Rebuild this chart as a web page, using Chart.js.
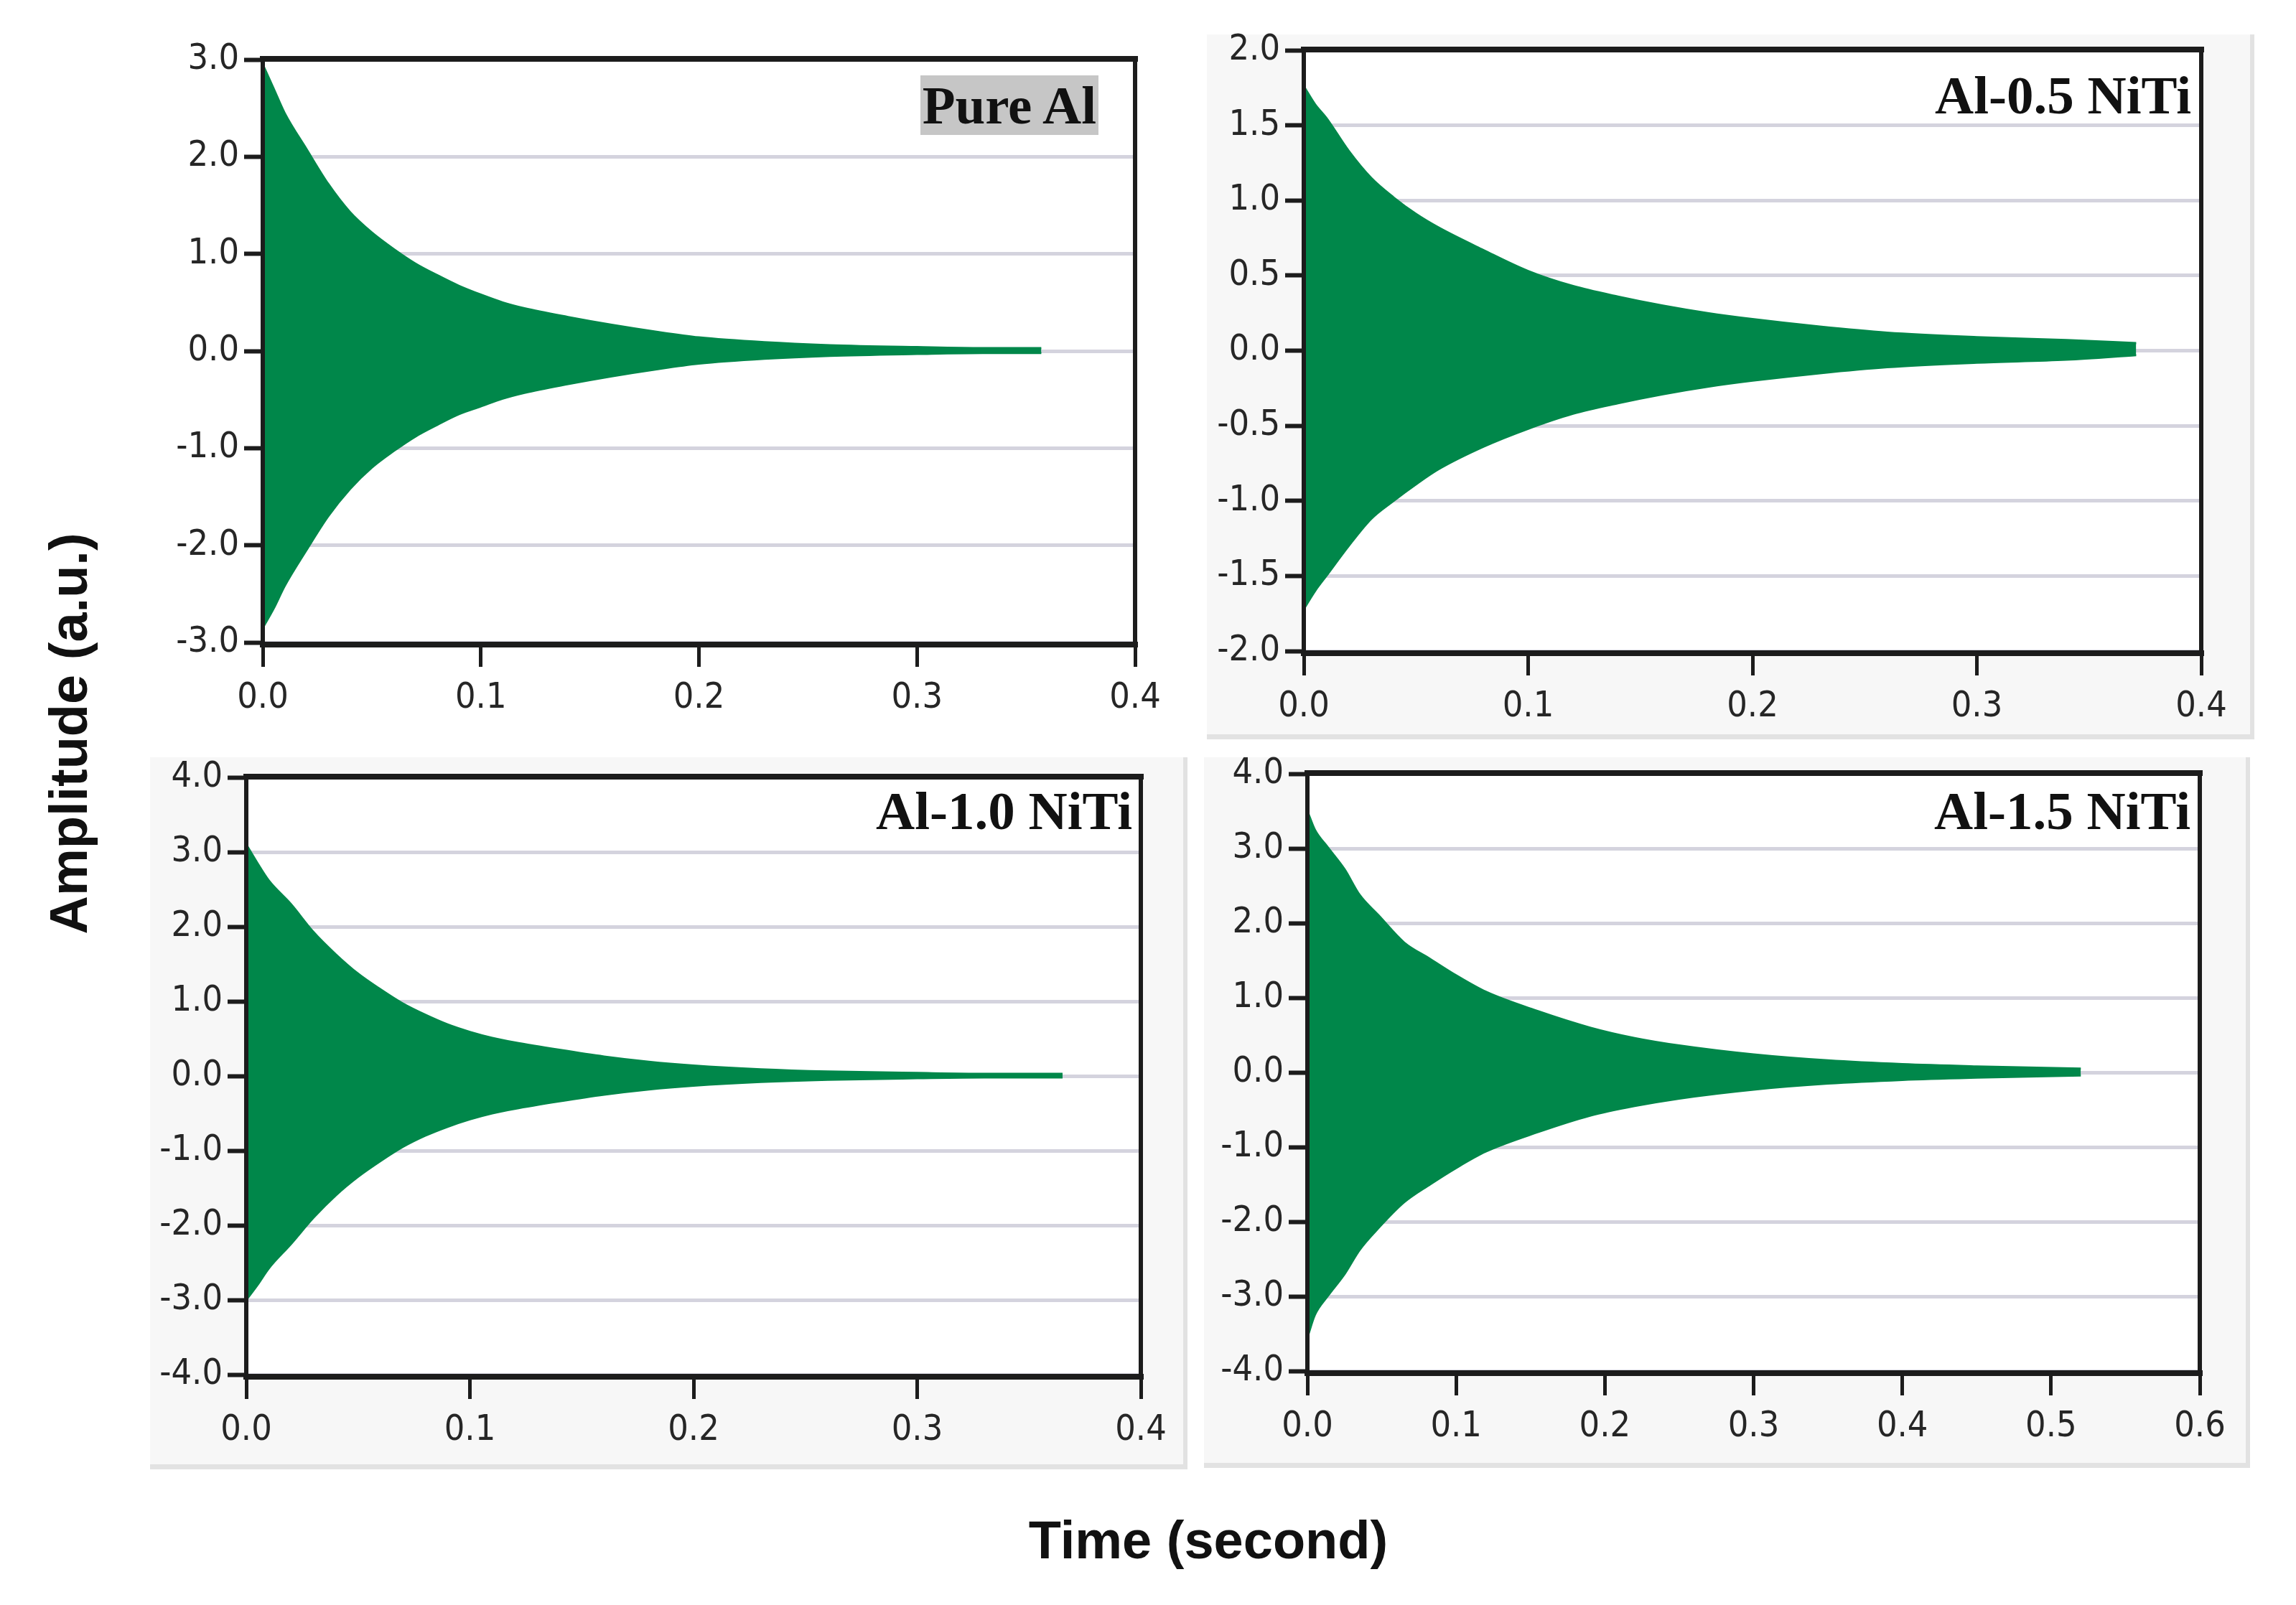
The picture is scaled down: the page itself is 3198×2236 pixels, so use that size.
<!DOCTYPE html>
<html>
<head>
<meta charset="utf-8">
<script src="https://cdn.jsdelivr.net/npm/chart.js@4.4.1/dist/chart.umd.min.js"></script>
<style>
  html, body { margin: 0; padding: 0; background: #fff; }
  body { width: 3198px; height: 2236px; position: relative; overflow: hidden; }
  .box { position: absolute; background: #f7f7f7; border-right: 6px solid #e2e2e2; border-bottom: 7px solid #e2e2e2; box-sizing: border-box; }
  canvas { position: absolute; }
  .tag { position: absolute; font-family: "Liberation Serif", "Times New Roman", serif; font-weight: bold;
         font-size: 75px; line-height: 75px; color: #111; white-space: nowrap; }
  .title { position: absolute; font-family: "Liberation Sans", Arial, sans-serif; font-weight: bold;
           font-size: 74px; line-height: 74px; color: #111; white-space: nowrap; transform: translate(-50%, -50%); }
</style>
</head>
<body>
<div class="box" style="left:1681px;top:48px;width:1459px;height:982px"></div>
<div class="box" style="left:209px;top:1055px;width:1445px;height:992px"></div>
<div class="box" style="left:1677px;top:1055px;width:1457px;height:990px"></div>

<canvas id="pure-al"></canvas>
<canvas id="al-05"></canvas>
<canvas id="al-10"></canvas>
<canvas id="al-15"></canvas>

<div class="tag" style="right:1668px;top:105px;background:#c6c6c6;padding:4px 3px">Pure Al</div>
<div class="tag" style="right:146px;top:95px">Al-0.5 NiTi</div>
<div class="tag" style="right:1621px;top:1092px">Al-1.0 NiTi</div>
<div class="tag" style="right:147px;top:1092px">Al-1.5 NiTi</div>

<div class="title" style="left:96px;top:1022px;transform:translate(-50%,-50%) rotate(-90deg)">Amplitude (a.u.)</div>
<div class="title" style="left:1683px;top:2146px">Time (second)</div>

<script>
// envelope of the decaying signal (time in s, amplitude in a.u.)

// Pure Al
const pureAlTime  = [0, 0.005, 0.01, 0.02, 0.03, 0.04, 0.05, 0.06, 0.07, 0.08, 0.09, 0.10, 0.11, 0.12, 0.14, 0.16, 0.18, 0.20, 0.23, 0.26, 0.30, 0.33, 0.357];
const pureAlUpper = [2.95, 2.70, 2.45, 2.08, 1.72, 1.43, 1.22, 1.05, 0.90, 0.78, 0.67, 0.58, 0.50, 0.44, 0.35, 0.27, 0.20, 0.14, 0.09, 0.06, 0.04, 0.03, 0.03];
const pureAlLower = [-2.85, -2.65, -2.42, -2.05, -1.70, -1.42, -1.20, -1.03, -0.88, -0.76, -0.65, -0.57, -0.49, -0.43, -0.34, -0.26, -0.19, -0.13, -0.08, -0.05, -0.03, -0.02, -0.02];

// Al-0.5 NiTi
const al05Time  = [0, 0.005, 0.01, 0.02, 0.03, 0.04, 0.05, 0.06, 0.08, 0.10, 0.12, 0.14, 0.16, 0.18, 0.20, 0.23, 0.26, 0.30, 0.34, 0.371];
const al05Upper = [1.76, 1.64, 1.55, 1.33, 1.15, 1.02, 0.91, 0.82, 0.67, 0.53, 0.43, 0.36, 0.30, 0.25, 0.21, 0.16, 0.12, 0.09, 0.07, 0.05];
const al05Lower = [-1.72, -1.60, -1.50, -1.30, -1.12, -1.00, -0.89, -0.79, -0.64, -0.52, -0.42, -0.35, -0.29, -0.24, -0.20, -0.15, -0.11, -0.08, -0.06, -0.03];

// Al-1.0 NiTi
const al10Time  = [0, 0.005, 0.01, 0.02, 0.03, 0.04, 0.05, 0.06, 0.07, 0.08, 0.09, 0.10, 0.11, 0.12, 0.14, 0.16, 0.18, 0.20, 0.23, 0.26, 0.30, 0.33, 0.365];
const al10Upper = [3.10, 2.85, 2.62, 2.30, 1.93, 1.63, 1.37, 1.16, 0.97, 0.82, 0.69, 0.59, 0.51, 0.45, 0.35, 0.26, 0.19, 0.14, 0.09, 0.06, 0.04, 0.03, 0.03];
const al10Lower = [-3.00, -2.80, -2.58, -2.25, -1.90, -1.60, -1.35, -1.14, -0.95, -0.80, -0.68, -0.58, -0.50, -0.44, -0.34, -0.25, -0.18, -0.13, -0.08, -0.05, -0.03, -0.02, -0.02];

// Al-1.5 NiTi
const al15Time  = [0, 0.005, 0.0135, 0.025, 0.035, 0.048, 0.065, 0.0825, 0.10, 0.12, 0.155, 0.19, 0.22, 0.25, 0.30, 0.35, 0.40, 0.45, 0.52];
const al15Upper = [3.50, 3.25, 3.02, 2.72, 2.38, 2.10, 1.74, 1.52, 1.30, 1.08, 0.82, 0.60, 0.46, 0.36, 0.24, 0.16, 0.11, 0.08, 0.05];
const al15Lower = [-3.55, -3.25, -3.00, -2.70, -2.38, -2.08, -1.74, -1.50, -1.28, -1.06, -0.80, -0.58, -0.45, -0.35, -0.23, -0.15, -0.10, -0.07, -0.04];

// axis ranges: [min, max, step]
const pureAlYAxis = [-3, 3, 1];
const al05YAxis   = [-2, 2, 0.5];
const al10YAxis   = [-4, 4, 1];
const al15YAxis   = [-4, 4, 1];
const shortXAxis  = [0, 0.4, 0.1];
const longXAxis   = [0, 0.6, 0.1];

const GREEN = '#00874a';
const FRAME = '#1c1c1c';

const framePlugin = {
  id: 'frame',
  beforeDraw(chart) {
    const { ctx, chartArea: a } = chart;
    ctx.save();
    ctx.fillStyle = '#fff';
    ctx.fillRect(a.left, a.top, a.right - a.left, a.bottom - a.top);
    ctx.restore();
  },
  afterDraw(chart) {
    const { ctx, chartArea: a } = chart;
    ctx.save();
    ctx.strokeStyle = FRAME;
    ctx.lineCap = 'square';
    ctx.lineWidth = 8;
    ctx.beginPath();
    ctx.moveTo(a.left, a.top - 1); ctx.lineTo(a.right, a.top - 1);
    ctx.moveTo(a.left, a.bottom + 3); ctx.lineTo(a.right, a.bottom + 3);
    ctx.stroke();
    ctx.lineWidth = 6;
    ctx.beginPath();
    ctx.moveTo(a.left, a.top); ctx.lineTo(a.left, a.bottom + 3);
    ctx.moveTo(a.right, a.top); ctx.lineTo(a.right, a.bottom + 3);
    ctx.stroke();
    ctx.restore();
  }
};

function makePanel(id, box, area, time, upper, lower, yAxis, xAxis) {
  const m = 40;
  const cx = box.x - m, cy = box.y - m, cw = box.w + 2 * m, ch = box.h + 2 * m;
  const canvas = document.getElementById(id);
  canvas.width = cw; canvas.height = ch;
  canvas.style.left = cx + 'px'; canvas.style.top = cy + 'px';
  canvas.style.width = cw + 'px'; canvas.style.height = ch + 'px';

  const yWidth = area.left - cx;
  const xHeight = cy + ch - area.bottom;
  const tickFont = { family: '"DejaVu Sans Condensed", "DejaVu Sans", Verdana, sans-serif', size: 50 };

  const chart = new Chart(canvas, {
    type: 'line',
    data: {
      datasets: [
        { data: time.map((t, i) => ({ x: t, y: upper[i] })), borderColor: GREEN, backgroundColor: GREEN,
          borderWidth: 3, pointRadius: 0, fill: '+1', cubicInterpolationMode: 'monotone' },
        { data: time.map((t, i) => ({ x: t, y: lower[i] })), borderColor: GREEN, backgroundColor: GREEN,
          borderWidth: 3, pointRadius: 0, fill: false, cubicInterpolationMode: 'monotone' }
      ]
    },
    options: {
      responsive: false,
      devicePixelRatio: 1,
      animation: false,
      layout: { padding: { left: 0, top: area.top - cy, right: cx + cw - area.right, bottom: 0 } },
      plugins: { legend: { display: false }, tooltip: { enabled: false } },
      scales: {
        x: {
          type: 'linear', min: xAxis[0], max: xAxis[1],
          afterFit: s => { s.height = xHeight; },
          border: { display: false },
          grid: { drawOnChartArea: false, drawTicks: true, tickLength: 34, tickColor: FRAME, tickWidth: 5 },
          ticks: { stepSize: xAxis[2], autoSkip: false, maxRotation: 0, padding: 14, color: '#262626',
                   font: tickFont, callback: v => v.toFixed(1) }
        },
        y: {
          min: yAxis[0], max: yAxis[1],
          afterFit: s => { s.width = yWidth; },
          border: { display: false },
          grid: { color: '#d4d3de', lineWidth: 5, drawTicks: true, tickLength: 26, tickColor: FRAME, tickWidth: 6 },
          ticks: { stepSize: yAxis[2], autoSkip: false, padding: 7, color: '#262626',
                   font: tickFont, callback: v => v.toFixed(1) }
        }
      }
    },
    plugins: [framePlugin]
  });

  // nudge the padding so the plot area lands where the reference has it
  const a = chart.chartArea, p = chart.options.layout.padding;
  const dl = (area.left - cx) - a.left, dt = (area.top - cy) - a.top;
  const dr = a.right - (area.right - cx), db = a.bottom - (area.bottom - cy);
  if (dl || dt || dr || db) {
    p.left = Math.max(0, p.left + dl); p.top = Math.max(0, p.top + dt);
    p.right = Math.max(0, p.right + dr); p.bottom = Math.max(0, p.bottom + db);
    chart.update('none');
  }
  return chart;
}

makePanel('pure-al', { x: 200, y: 40, w: 1460, h: 1000 }, { left: 366, top: 83, right: 1581, bottom: 895 },
  pureAlTime, pureAlUpper, pureAlLower, pureAlYAxis, shortXAxis);
makePanel('al-05', { x: 1681, y: 48, w: 1459, h: 982 }, { left: 1816, top: 70, right: 3066, bottom: 907 },
  al05Time, al05Upper, al05Lower, al05YAxis, shortXAxis);
makePanel('al-10', { x: 209, y: 1055, w: 1445, h: 992 }, { left: 343, top: 1083, right: 1589, bottom: 1915 },
  al10Time, al10Upper, al10Lower, al10YAxis, shortXAxis);
makePanel('al-15', { x: 1677, y: 1055, w: 1457, h: 990 }, { left: 1821, top: 1078, right: 3064, bottom: 1910 },
  al15Time, al15Upper, al15Lower, al15YAxis, longXAxis);
</script>
</body>
</html>
